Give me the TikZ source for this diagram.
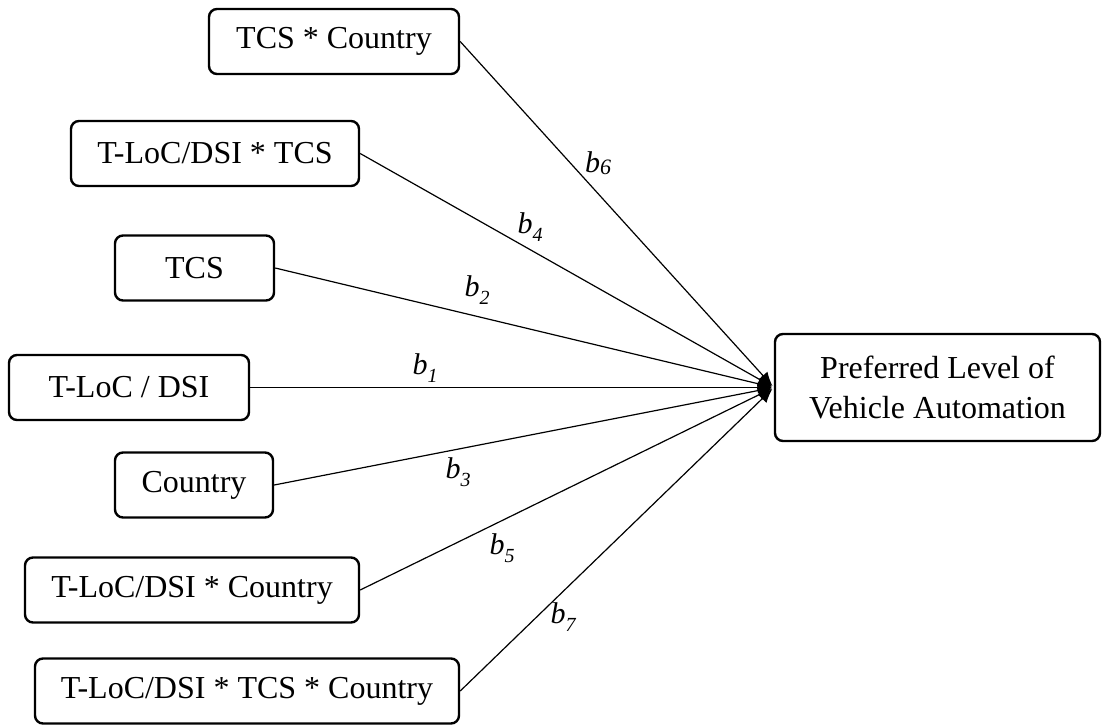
\documentclass[tikz,border=0pt]{standalone}
\usepackage{fontspec}
\setmainfont{Liberation Serif}
\usetikzlibrary{arrows.meta,positioning}
\tikzset{
    var/.style =    {rectangle,
                    rounded corners=4pt,
                    fill=white,
                    draw=black,
                    text=black,
                    line width=1.2pt,
                    minimum height=32.5pt,
                    inner sep=0pt,
                    font=\fontsize{16}{20}\selectfont},
    outcome/.style = {var,
                    align=center,
                    minimum height=53.5pt},
    coef/.style =   {inner sep=0pt,
                    font=\fontsize{15}{17}\selectfont\itshape},
    path/.style =   {line width=0.6pt,->},
    >={Latex[length=7pt,width=6pt]},
    shorten >= 1pt}
\newcommand{\bsub}[1]{b\raisebox{-4pt}{\fontsize{10}{12}\selectfont #1}}

\begin{document}
\begin{tikzpicture}[x=0.5pt,y=-0.5pt]
    \useasboundingbox (0,0) rectangle (1104,724);
    \node[var, minimum width=125pt]   (tcsc)  at (334,41.5)  {TCS * Country};
    \node[var, minimum width=144pt]   (ltcs)  at (215,153.5) {T-LoC/DSI * TCS};
    \node[var, minimum width=79.5pt]  (tcs)   at (194.5,268) {TCS};
    \node[var, minimum width=120pt]   (tloc)  at (129,387.5) {T-LoC / DSI};
    \node[var, minimum width=79pt]    (ctry)  at (194,485)   {Country};
    \node[var, minimum width=167pt]   (lctry) at (192,590)   {T-LoC/DSI * Country};
    \node[var, minimum width=212pt]   (all)   at (247,691)   {T-LoC/DSI * TCS * Country};
    \node[outcome, minimum width=162.5pt] (pref) at (937.5,387.5)
        {Preferred Level of\\Vehicle Automation};

    \draw[path] (tcsc.east)  -- (pref.west);
    \draw[path] (ltcs.east)  -- (pref.west);
    \draw[path] (tcs.east)   -- (pref.west);
    \draw[path] (tloc.east)  -- (pref.west);
    \draw[path] (ctry.east)  -- (pref.west);
    \draw[path] (lctry.east) -- (pref.west);
    \draw[path] (all.east)   -- (pref.west);

    % coefficients
    \node[coef] (b6) at (598,163) {b\raisebox{-1pt}{\fontsize{11}{13}\selectfont 6}};
    \node[coef] (b4) at (530,227) {\bsub{4}};
    \node[coef] (b2) at (477,290) {\bsub{2}};
    \node[coef] (b1) at (425,368) {\bsub{1}};
    \node[coef] (b3) at (458,472) {\bsub{3}};
    \node[coef] (b5) at (502,548) {\bsub{5}};
    \node[coef] (b7) at (563,617) {\bsub{7}};
\end{tikzpicture}
\end{document}
